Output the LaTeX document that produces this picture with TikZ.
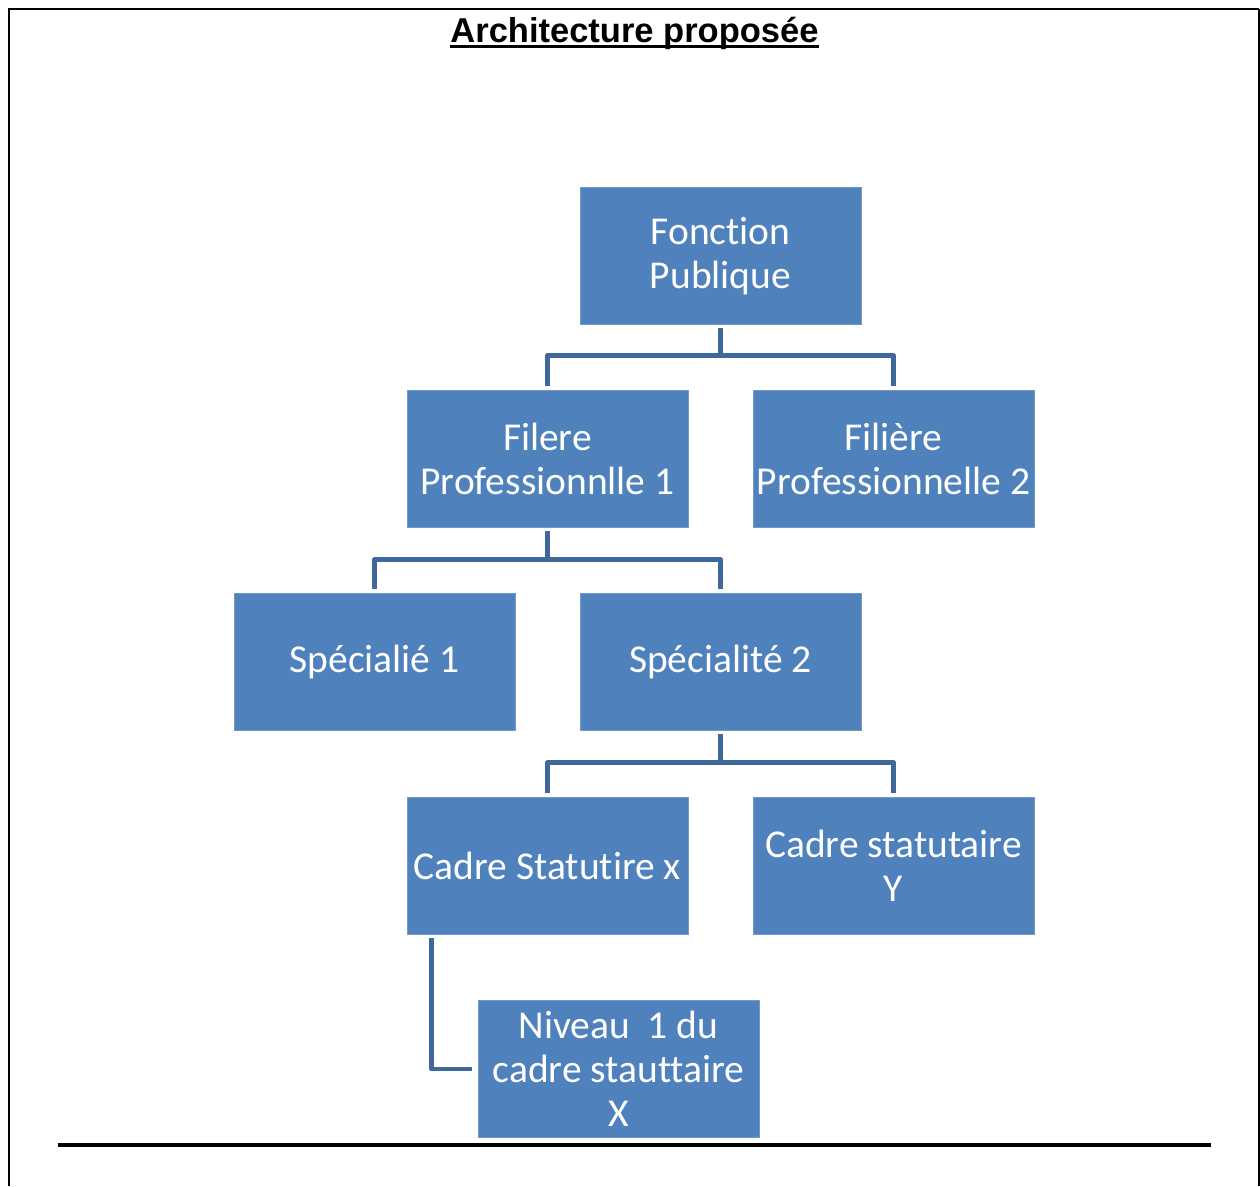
\documentclass[tikz,border=0pt]{standalone}
\usepackage{fontspec}
\setmainfont{Carlito}[Ligatures={NoCommon}]
\newfontfamily\titlefont{Liberation Sans}
\definecolor{boxblue}{HTML}{4F81BD}
\definecolor{boxedge}{HTML}{7398CB}
\definecolor{linkblue}{HTML}{41689B}
\begin{document}
\begin{tikzpicture}[x=1pt,y=-1pt,
    box/.style={rectangle, fill=boxblue, draw=boxedge, line width=0.8pt,
      minimum width=281pt, minimum height=137pt, inner sep=0pt,
      align=center, text=white, font=\fontsize{39.5}{44}\selectfont},
    link/.style={draw=linkblue, line width=4.5pt, line join=round}]
    \useasboundingbox (0,0) rectangle (1260,1186);
    % frame
    \draw[line width=2.5pt] (9,1186) -- (9,9) -- (1259,9);
    \draw[line width=2pt] (1259,9) -- (1259,1186);
    \draw[line width=4pt] (58,1145) -- (1211,1145);
    % title
    \node[inner sep=0pt, anchor=base, font=\titlefont\bfseries\fontsize{34.5}{40}\selectfont] (title) at (634.5,42) {Architecture proposée};
    \draw[line width=3pt] ([yshift=-4.5pt]title.base west) -- ([yshift=-4.5pt]title.base east);

    \node[box] (fp) at (720.5,256) {Fonction\\Publique};
    \node[box] (fil1) at (547.5,459) {Filere\\Professionnlle 1};
    \node[box] (fil2) at (893.5,459) {Filière\\Professionnelle 2};
    \node[box] (spec1) at (374.5,662) {Spécialié 1};
    \node[box] (spec2) at (720.5,662) {Spécialité 2};
    \node[box] (cadrex) at (547.5,866) {Cadre Statutire x};
    \node[box] (cadrey) at (893.5,866) {Cadre statutaire\\Y};
    \node[box] (niv) at (618.5,1069) {Niveau\ \ 1 du\\cadre stauttaire\\X};

    % connectors
    \draw[link] ([yshift=-3.5pt]fp.south) -- ++(0,27) -| ([yshift=4.5pt]fil1.north);
    \draw[link] ([yshift=-3.5pt]fp.south) -- ++(0,27) -| ([yshift=4.5pt]fil2.north);
    \draw[link] ([yshift=-3.5pt]fil1.south) -- ++(0,28) -| ([yshift=4.5pt]spec1.north);
    \draw[link] ([yshift=-3.5pt]fil1.south) -- ++(0,28) -| ([yshift=4.5pt]spec2.north);
    \draw[link] ([yshift=-3.5pt]spec2.south) -- ++(0,28) -| ([yshift=4.5pt]cadrex.north);
    \draw[link] ([yshift=-3.5pt]spec2.south) -- ++(0,28) -| ([yshift=4.5pt]cadrey.north);
    \draw[link] ([xshift=25pt,yshift=-3.5pt]cadrex.south west) |- ([xshift=-6pt]niv.west);
\end{tikzpicture}
\end{document}
